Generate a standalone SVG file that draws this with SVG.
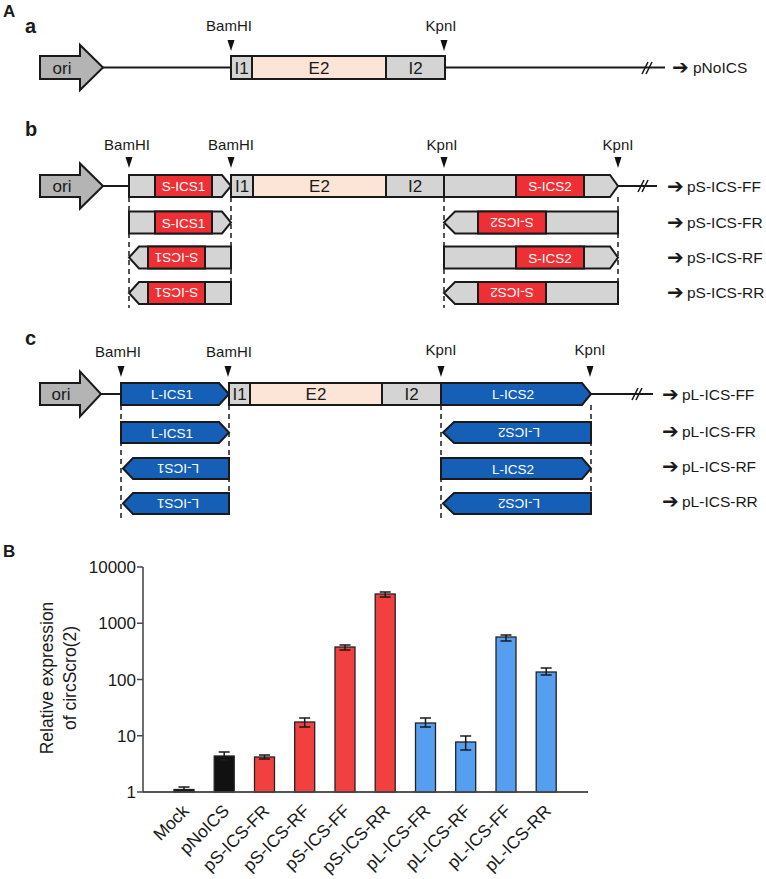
<svg xmlns="http://www.w3.org/2000/svg" xmlns:xlink="http://www.w3.org/1999/xlink" width="766" height="879" viewBox="0 0 766 879">
<style>
text{font-family:"Liberation Sans",Arial,sans-serif;fill:#1a1a1a}
.lbl{font-size:15.5px}
.site{font-size:15px;text-anchor:middle}
.in{font-size:17px;text-anchor:middle}
.ics{font-size:13.5px;fill:#fff;text-anchor:middle}
.pan{font-weight:bold;font-size:20px}
.big{font-weight:bold;font-size:17px}
.arr{font-family:"DejaVu Sans",sans-serif;font-size:20px;font-weight:bold}
.bx{stroke:#1a1a1a;stroke-width:2}
.gray{fill:#d4d4d4}
.peach{fill:#fce4d6}
.ori{fill:#b4b4b4}
.red{fill:#ee3034}
.blue{fill:#1560b6}
.ln{stroke:#1a1a1a;stroke-width:2;fill:none}
.dash{stroke:#1a1a1a;stroke-width:1.5;stroke-dasharray:5 4;fill:none}
.axis{stroke:#4a4a4a;stroke-width:1.6;fill:none}
.tick{font-size:17px;text-anchor:end}
.xl{font-size:17.5px;text-anchor:end}
.yt{font-size:17.5px;text-anchor:middle}
.bar{stroke:#222;stroke-width:1.3}
.err{stroke:#1a1a1a;stroke-width:1.5;fill:none}
.sred{fill:#f23f3f}
.sblue{fill:#569ff0}
.sblack{fill:#111}
</style>
<defs>
<path id="tri" d="M-3.5,0 L3.5,0 L0,11 Z" fill="#111"/>
<path id="brk" d="M-5,6 L1,-6 M-1,6 L5,-6" stroke="#1a1a1a" stroke-width="1.6" fill="none"/>
</defs>

<text class="big" x="3" y="17">A</text>
<text class="big" x="3" y="557">B</text>

<!-- Panel a -->
<g id="panel-a">
<text class="pan" x="25" y="33">a</text>
<g id="a-ori"><polygon class="bx ori" points="40,56 80,56 80,45 103,67.5 80,90 80,79 40,79"/><text class="in" x="62" y="73.5">ori</text></g>
<g id="a-I1"><rect class="bx gray" x="231" y="56" width="21" height="23"/><text class="in" x="241.5" y="73.5">I1</text></g>
<g id="a-E2"><rect class="bx peach" x="252" y="56" width="134" height="23"/><text class="in" x="319" y="73.5">E2</text></g>
<g id="a-I2"><rect class="bx gray" x="386" y="56" width="59" height="23"/><text class="in" x="415.5" y="73.5">I2</text></g>
<g id="a-sites"><text class="site" x="229" y="31">BamHI</text><use xlink:href="#tri" x="231" y="40"/><text class="site" x="441" y="31">KpnI</text><use xlink:href="#tri" x="444" y="40"/></g>
<g id="a-name"><text class="lbl" y="73"><tspan class="arr" x="672" y="74">➔</tspan><tspan x="693" y="73">pNoICS</tspan></text></g>
</g>

<!-- Panel b -->
<g id="panel-b">
<text class="pan" x="25" y="136">b</text>
<g id="b-ori"><polygon class="bx ori" points="40,175 80,175 80,163.5 103,186 80,208.5 80,197 40,197"/><text class="in" x="62" y="192">ori</text></g>
<g id="b-ff-ics1"><polygon class="bx gray" points="129,175 222,175 231,186 222,197 129,197"/><rect class="bx red" x="155" y="175" width="57" height="22"/><text class="ics" x="183.5" y="191">S-ICS1</text></g>
<g id="b-I1"><rect class="bx gray" x="231" y="175" width="22" height="22"/><text class="in" x="242" y="192">I1</text></g>
<g id="b-E2"><rect class="bx peach" x="253" y="175" width="133" height="22"/><text class="in" x="319.5" y="192">E2</text></g>
<g id="b-I2"><rect class="bx gray" x="386" y="175" width="58" height="22"/><text class="in" x="415" y="192">I2</text></g>
<g id="b-ff-ics2"><polygon class="bx gray" points="444,175 610,175 618,186 610,197 444,197"/><rect class="bx red" x="516" y="175" width="68" height="22"/><text class="ics" x="550" y="191">S-ICS2</text></g>

<g id="b-fr-ics1"><polygon class="bx gray" points="129,211.5 222,211.5 231,222.5 222,233.5 129,233.5"/><rect class="bx red" x="155" y="211.5" width="57" height="22"/><text class="ics" x="183.5" y="227.5">S-ICS1</text></g>
<g id="b-fr-ics2"><polygon class="bx gray" points="444,222.5 455,211.5 618,211.5 618,233.5 455,233.5"/><rect class="bx red" x="478" y="211.5" width="68" height="22"/><text class="ics" transform="translate(512,222.5) rotate(180)" y="5">S-ICS2</text></g>

<g id="b-rf-ics1"><polygon class="bx gray" points="129,257.5 139,246.5 231,246.5 231,268.5 139,268.5"/><rect class="bx red" x="148" y="246.5" width="57" height="22"/><text class="ics" transform="translate(176.5,257.5) rotate(180)" y="5">S-ICS1</text></g>
<g id="b-rf-ics2"><polygon class="bx gray" points="444,246.5 610,246.5 618,257.5 610,268.5 444,268.5"/><rect class="bx red" x="516" y="246.5" width="68" height="22"/><text class="ics" x="550" y="262.5">S-ICS2</text></g>

<g id="b-rr-ics1"><polygon class="bx gray" points="129,293 139,282 231,282 231,304 139,304"/><rect class="bx red" x="148" y="282" width="57" height="22"/><text class="ics" transform="translate(176.5,293) rotate(180)" y="5">S-ICS1</text></g>
<g id="b-rr-ics2"><polygon class="bx gray" points="444,293 455,282 618,282 618,304 455,304"/><rect class="bx red" x="478" y="282" width="68" height="22"/><text class="ics" transform="translate(512,293) rotate(180)" y="5">S-ICS2</text></g>

<g id="b-sites"><text class="site" x="127" y="150">BamHI</text><use xlink:href="#tri" x="129" y="157"/><text class="site" x="231" y="150">BamHI</text><use xlink:href="#tri" x="231" y="157"/><text class="site" x="442" y="150">KpnI</text><use xlink:href="#tri" x="444" y="157"/><text class="site" x="618" y="150">KpnI</text><use xlink:href="#tri" x="618" y="157"/></g>
<g id="b-names">
<text class="lbl"><tspan class="arr" x="667" y="193">➔</tspan><tspan x="687" y="192">pS-ICS-FF</tspan></text>
<text class="lbl"><tspan class="arr" x="667" y="229">➔</tspan><tspan x="687" y="228">pS-ICS-FR</tspan></text>
<text class="lbl"><tspan class="arr" x="667" y="264">➔</tspan><tspan x="687" y="263">pS-ICS-RF</tspan></text>
<text class="lbl"><tspan class="arr" x="667" y="299">➔</tspan><tspan x="687" y="298">pS-ICS-RR</tspan></text>
</g>
</g>

<!-- Panel c -->
<g id="panel-c">
<text class="pan" x="25" y="345">c</text>
<g id="c-ori"><polygon class="bx ori" points="40,383 80,383 80,371.5 101,394 80,416.5 80,405 40,405"/><text class="in" x="61" y="400">ori</text></g>
<g id="c-ff-ics1"><polygon class="bx blue" points="121,383 219,383 229,394 219,405 121,405"/><text class="ics" x="172" y="399">L-ICS1</text></g>
<g id="c-I1"><rect class="bx gray" x="229" y="383" width="21" height="22"/><text class="in" x="239.5" y="400">I1</text></g>
<g id="c-E2"><rect class="bx peach" x="250" y="383" width="132" height="22"/><text class="in" x="316" y="400">E2</text></g>
<g id="c-I2"><rect class="bx gray" x="382" y="383" width="59" height="22"/><text class="in" x="411.5" y="400">I2</text></g>
<g id="c-ff-ics2"><polygon class="bx blue" points="441,383 582,383 591,394 582,405 441,405"/><text class="ics" x="513" y="399">L-ICS2</text></g>

<g id="c-fr-ics1"><polygon class="bx blue" points="121,422 219,422 229,432.5 219,443 121,443"/><text class="ics" x="172" y="437.5">L-ICS1</text></g>
<g id="c-fr-ics2"><polygon class="bx blue" points="443,432.5 454,422 591,422 591,443 454,443"/><text class="ics" transform="translate(519,432.5) rotate(180)" y="5">L-ICS2</text></g>

<g id="c-rf-ics1"><polygon class="bx blue" points="123,468.5 133,458 229,458 229,479 133,479"/><text class="ics" transform="translate(178,468.5) rotate(180)" y="5">L-ICS1</text></g>
<g id="c-rf-ics2"><polygon class="bx blue" points="441,458 582,458 591,468.5 582,479 441,479"/><text class="ics" x="513" y="473.5">L-ICS2</text></g>

<g id="c-rr-ics1"><polygon class="bx blue" points="123,503.5 133,493 229,493 229,514 133,514"/><text class="ics" transform="translate(178,503.5) rotate(180)" y="5">L-ICS1</text></g>
<g id="c-rr-ics2"><polygon class="bx blue" points="443,503.5 454,493 591,493 591,514 454,514"/><text class="ics" transform="translate(519,503.5) rotate(180)" y="5">L-ICS2</text></g>

<g id="c-sites"><text class="site" x="118" y="357">BamHI</text><use xlink:href="#tri" x="121" y="366"/><text class="site" x="229" y="357">BamHI</text><use xlink:href="#tri" x="228" y="366"/><text class="site" x="441" y="355">KpnI</text><use xlink:href="#tri" x="441" y="366"/><text class="site" x="590" y="355">KpnI</text><use xlink:href="#tri" x="590" y="366"/></g>
<g id="c-names">
<text class="lbl"><tspan class="arr" x="662" y="401">➔</tspan><tspan x="682" y="400">pL-ICS-FF</tspan></text>
<text class="lbl"><tspan class="arr" x="662" y="438">➔</tspan><tspan x="682" y="437">pL-ICS-FR</tspan></text>
<text class="lbl"><tspan class="arr" x="662" y="473">➔</tspan><tspan x="682" y="472">pL-ICS-RF</tspan></text>
<text class="lbl"><tspan class="arr" x="662" y="508">➔</tspan><tspan x="682" y="507">pL-ICS-RR</tspan></text>
</g>
</g>

<!-- connectors: backbone lines, breaks, dashed guides -->
<g id="connectors">
<path class="ln" d="M103,67.5 H231 M445,67.5 H665"/>
<use xlink:href="#brk" x="647" y="68"/>
<path class="ln" d="M103,186 H129 M618,186 H657"/>
<use xlink:href="#brk" x="643" y="186"/>
<path class="ln" d="M101,394 H121 M591,394 H653"/>
<use xlink:href="#brk" x="637" y="394"/>
<path class="dash" d="M129,197 V308 M231,197 V305 M444,197 V308 M618,197 V305"/>
<path class="dash" d="M121,405 V518 M229,405 V514 M441,405 V518 M591,405 V514"/>
</g>

<!-- Chart B -->
<g id="chart">
<path class="axis" d="M143,567 V792 H588 M137,567 H143 M137,623.3 H143 M137,679.5 H143 M137,735.8 H143 M137,792 H143"/>
<text class="tick" x="136" y="573">10000</text>
<text class="tick" x="136" y="629">1000</text>
<text class="tick" x="136" y="685.5">100</text>
<text class="tick" x="136" y="742">10</text>
<text class="tick" x="136" y="798">1</text>
<text class="yt" transform="translate(53,678) rotate(-90)">Relative expression</text>
<text class="yt" transform="translate(76,678) rotate(-90)">of circScro(2)</text>

<g id="bar-mock"><rect class="bar sblack" x="174" y="789.5" width="20" height="2.5"/><path class="err" d="M184,787 V791 M178.5,787 H189.5 M178.5,791 H189.5"/></g>
<g id="bar-pnoics"><rect class="bar sblack" x="214.2" y="756" width="20" height="36"/><path class="err" d="M224.2,752 V760 M218.7,752 H229.7 M218.7,760 H229.7"/></g>
<g id="bar-psfr"><rect class="bar sred" x="254.5" y="757" width="20" height="35"/><path class="err" d="M264.5,755 V759 M259,755 H270 M259,759 H270"/></g>
<g id="bar-psrf"><rect class="bar sred" x="294.7" y="722" width="20" height="70"/><path class="err" d="M304.7,718 V727 M299.2,718 H310.2 M299.2,727 H310.2"/></g>
<g id="bar-psff"><rect class="bar sred" x="335" y="647" width="20" height="145"/><path class="err" d="M345,645 V650 M339.5,645 H350.5 M339.5,650 H350.5"/></g>
<g id="bar-psrr"><rect class="bar sred" x="375.2" y="594" width="20" height="198"/><path class="err" d="M385.2,592 V597 M379.7,592 H390.7 M379.7,597 H390.7"/></g>
<g id="bar-plfr"><rect class="bar sblue" x="415.5" y="723" width="20" height="69"/><path class="err" d="M425.5,718 V727 M420,718 H431 M420,727 H431"/></g>
<g id="bar-plrf"><rect class="bar sblue" x="455.7" y="742" width="20" height="50"/><path class="err" d="M465.7,736 V750 M460.2,736 H471.2 M460.2,750 H471.2"/></g>
<g id="bar-plff"><rect class="bar sblue" x="496" y="637" width="20" height="155"/><path class="err" d="M506,635 V641 M500.5,635 H511.5 M500.5,641 H511.5"/></g>
<g id="bar-plrr"><rect class="bar sblue" x="536.2" y="672" width="20" height="120"/><path class="err" d="M546.2,668 V675 M540.7,668 H551.7 M540.7,675 H551.7"/></g>
<path class="axis" d="M143,792 H588"/>

<g id="xlabels">
<text class="xl" transform="translate(190,812) rotate(-45)">Mock</text>
<text class="xl" transform="translate(230.2,812) rotate(-45)">pNoICS</text>
<text class="xl" transform="translate(270.5,812) rotate(-45)">pS-ICS-FR</text>
<text class="xl" transform="translate(310.7,812) rotate(-45)">pS-ICS-RF</text>
<text class="xl" transform="translate(351,812) rotate(-45)">pS-ICS-FF</text>
<text class="xl" transform="translate(391.2,812) rotate(-45)">pS-ICS-RR</text>
<text class="xl" transform="translate(431.5,812) rotate(-45)">pL-ICS-FR</text>
<text class="xl" transform="translate(471.7,812) rotate(-45)">pL-ICS-RF</text>
<text class="xl" transform="translate(512,812) rotate(-45)">pL-ICS-FF</text>
<text class="xl" transform="translate(552.2,812) rotate(-45)">pL-ICS-RR</text>
</g>
</g>
</svg>
